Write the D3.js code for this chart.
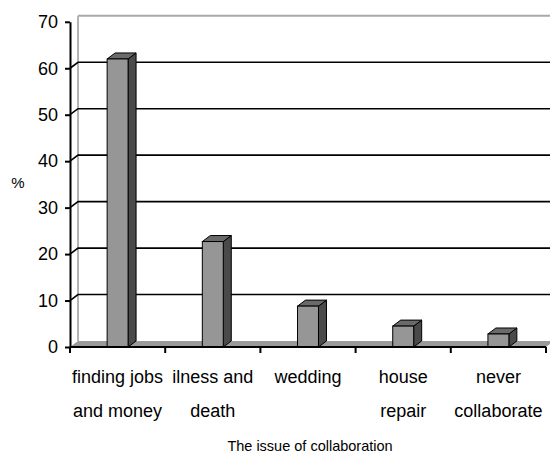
<!DOCTYPE html>
<html>
<head>
<meta charset="utf-8">
<script src="https://cdn.jsdelivr.net/npm/d3@7"></script>
<style>
  html, body { margin: 0; padding: 0; background: #fff; }
  svg { display: block; }
  text { font-family: "Liberation Sans", Arial, sans-serif; fill: #000; }
</style>
</head>
<body>
<svg id="chart" width="550" height="454"></svg>
<script>
// ---- data ----
const categories = ["finding jobs and money", "ilness and death", "wedding", "house repair", "never collaborate"];
const categoryLines = [["finding jobs", "and money"], ["ilness and", "death"], ["wedding"], ["house", "repair"], ["never", "collaborate"]];
const values = [62, 22.7, 8.8, 4.5, 2.8];
const yTicks = [0, 10, 20, 30, 40, 50, 60, 70];
const yTitle = "%";
const xTitle = "The issue of collaboration";

// ---- layout ----
const svg = d3.select("#chart");
const plotLeft = 70, plotRight = 546, plotBottom = 347, plotTop = 21.8;
const dx = 8, dy = -6; // 3D depth offset

const x = d3.scaleBand().domain(categories).range([plotLeft, plotRight]).paddingInner(0).paddingOuter(0);
const y = d3.scaleLinear().domain([0, 70]).range([plotBottom, plotTop]);

// back wall edges (gray)
svg.append("line").attr("x1", plotLeft + dx).attr("x2", 552).attr("y1", y(70) + dy).attr("y2", y(70) + dy)
  .attr("stroke", "#a8a8a8").attr("stroke-width", 2);
svg.append("line").attr("x1", plotLeft + dx).attr("x2", plotLeft + dx).attr("y1", y(70) + dy).attr("y2", y(0) + dy)
  .attr("stroke", "#b4b4b4").attr("stroke-width", 2);

// gridlines on side wall + back wall
const gridVals = yTicks.filter(v => v > 0 && v < 70);
svg.append("g").selectAll("path").data(gridVals).join("path")
  .attr("d", v => `M${plotLeft},${y(v)} L${plotLeft + dx},${y(v) + dy} L552,${y(v) + dy}`)
  .attr("fill", "none").attr("stroke", "#000").attr("stroke-width", 1.6);

// floor
svg.append("path")
  .attr("d", `M${plotLeft},${y(0)} L${plotRight},${y(0)} L${plotRight + dx},${y(0) + dy} L${plotLeft + dx},${y(0) + dy} Z`)
  .attr("fill", "#9a9a9a");

// bars
const barW = x.bandwidth() * 0.22;
const bars = svg.append("g").selectAll("g").data(values).join("g");
bars.each(function (v, i) {
  const g = d3.select(this);
  const x0 = x(categories[i]) + (x.bandwidth() - barW) / 2;
  const x1 = x0 + barW;
  const yt = y(v), yb = y(0);
  g.append("path")
    .attr("d", `M${x1},${yt} L${x1 + dx},${yt + dy} L${x1 + dx},${yb + dy} L${x1},${yb} Z`)
    .attr("fill", "#4a4a4a").attr("stroke", "#000").attr("stroke-width", 1);
  g.append("path")
    .attr("d", `M${x0},${yt} L${x0 + dx},${yt + dy} L${x1 + dx},${yt + dy} L${x1},${yt} Z`)
    .attr("fill", "#6a6a6a").attr("stroke", "#000").attr("stroke-width", 1);
  g.append("rect").attr("x", x0).attr("y", yt).attr("width", barW).attr("height", yb - yt)
    .attr("fill", "#969696").attr("stroke", "#000").attr("stroke-width", 1);
});

// y axis
const yAxis = d3.axisLeft(y).tickValues(yTicks).tickSize(5).tickSizeOuter(0).tickPadding(7);
const gy = svg.append("g").attr("transform", `translate(${plotLeft},0)`).call(yAxis);
gy.select(".domain").attr("stroke", "#000").attr("stroke-width", 2);
gy.selectAll(".tick line").attr("stroke", "#000").attr("stroke-width", 2);
gy.selectAll(".tick text").style("font-size", "18px").style("font-family", "'Liberation Sans', Arial, sans-serif").attr("fill", "#000");

// x axis line + boundary ticks
svg.append("line").attr("x1", plotLeft).attr("x2", plotRight).attr("y1", y(0)).attr("y2", y(0))
  .attr("stroke", "#000").attr("stroke-width", 2);
const bounds = categories.map(c => x(c)).concat([x.range()[1]]);
svg.append("g").selectAll("line").data(bounds).join("line")
  .attr("x1", d => d).attr("x2", d => d).attr("y1", y(0)).attr("y2", y(0) + 6)
  .attr("stroke", "#000").attr("stroke-width", 2);

// category labels
const lab = svg.append("g").selectAll("text").data(categories).join("text")
  .attr("text-anchor", "middle").style("font-size", "18px");
lab.each(function (c, i) {
  const t = d3.select(this);
  categoryLines[i].forEach((ln, k) => {
    t.append("tspan").attr("x", x(c) + x.bandwidth() / 2).attr("y", 383 + k * 34).text(ln);
  });
});

// axis titles
svg.append("text").attr("x", 18).attr("y", 188).attr("text-anchor", "middle")
  .style("font-size", "15px").text(yTitle);
svg.append("text").attr("x", 310).attr("y", 451).attr("text-anchor", "middle")
  .style("font-size", "14.5px").text(xTitle);
</script>
</body>
</html>
